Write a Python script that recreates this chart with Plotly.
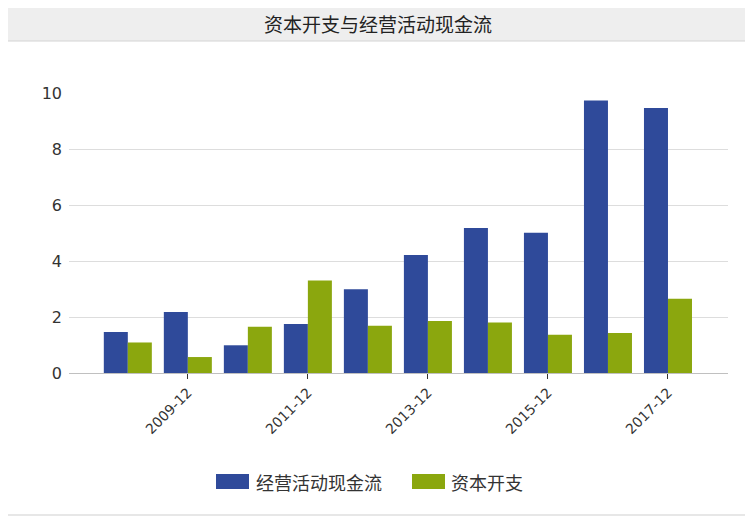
import plotly.graph_objects as go

# datos
periodos = ['2008-12', '2009-12', '2010-12', '2011-12', '2012-12',
            '2013-12', '2014-12', '2015-12', '2016-12', '2017-12']
flujo_operativo = [1.46, 2.18, 0.99, 1.75, 2.99, 4.21, 5.18, 5.01, 9.73, 9.46]
capex = [1.09, 0.57, 1.65, 3.30, 1.69, 1.86, 1.80, 1.37, 1.43, 2.65]
ticks_y = [0, 2, 4, 6, 8, 10]

AZUL = '#2f4a9a'
VERDE = '#8ba70e'
FUENTE = 'Verdana, DejaVu Sans, Noto Sans CJK SC'
CJK = 'Noto Sans CJK SC'

# la pagina tiene 8px de margen en el body, se compensa
OFF = 8
W, H = 753 - OFF, 519 - OFF
L, R, T, B = 69 - OFF, 728 - OFF, 93 - OFF, 373 - OFF  # area del grafico


def px(x):
    return (x - OFF - L) / (R - L)


def py(y):
    return (B - (y - OFF)) / (B - T)


fig = go.Figure()
fig.add_trace(go.Bar(x=periodos, y=flujo_operativo, name='经营活动现金流',
                     marker=dict(color=AZUL, line=dict(width=0))))
fig.add_trace(go.Bar(x=periodos, y=capex, name='资本开支',
                     marker=dict(color=VERDE, line=dict(width=0))))

shapes = [
    # barra del titulo
    dict(type='rect', xref='paper', yref='paper', x0=px(OFF), x1=px(750),
         y0=py(OFF), y1=py(41), line=dict(width=0), fillcolor='#eeeeee',
         layer='below'),
    dict(type='line', xref='paper', yref='paper', x0=px(OFF), x1=px(750),
         y0=py(41), y1=py(41), line=dict(color='#d4d4d4', width=1)),
    # marco exterior (derecha y abajo)
    dict(type='line', xref='paper', yref='paper', x0=px(750), x1=px(750),
         y0=py(OFF), y1=py(515), line=dict(color='#cfcfcf', width=1)),
    dict(type='line', xref='paper', yref='paper', x0=px(OFF), x1=px(750),
         y0=py(515), y1=py(515), line=dict(color='#cfcfcf', width=1)),
]

annotations = [
    dict(text='资本开支与经营活动现金流', xref='paper', yref='paper',
         x=px(378), y=py(23), showarrow=False, xanchor='center', yanchor='middle',
         font=dict(family=CJK, size=19, color='#222222')),
]

# leyenda propia (muestras anchas como en el original)
leyenda = [(216, 257, AZUL, '经营活动现金流'), (412, 452, VERDE, '资本开支')]
for x0, xt, color, texto in leyenda:
    shapes.append(dict(type='rect', xref='paper', yref='paper',
                       x0=px(x0), x1=px(x0 + 33), y0=py(474), y1=py(489),
                       line=dict(width=0), fillcolor=color))
    annotations.append(dict(text=texto, xref='paper', yref='paper',
                            x=px(xt - 3), y=py(482), showarrow=False,
                            xanchor='left', yanchor='middle',
                            font=dict(family=CJK, size=18, color='#333333')))

fig.update_layout(
    width=W, height=H,
    margin=dict(l=L, r=W - R, t=T, b=H - B),
    paper_bgcolor='white', plot_bgcolor='white',
    barmode='group', bargap=0.2, bargroupgap=0,
    showlegend=False,
    font=dict(family=FUENTE, color='#333333'),
    shapes=shapes, annotations=annotations,
)
fig.update_xaxes(
    type='category', range=[-0.98, 10.0],
    tickvals=periodos[1::2], ticktext=periodos[1::2],
    tickangle=-45, tickfont=dict(size=14, color='#333333'),
    ticks='outside', ticklen=5, tickcolor='#333333',
    showline=True, linecolor='#c0c0c0', linewidth=1,
    showgrid=False, zeroline=False,
)
fig.update_yaxes(
    range=[0, 10], tickvals=ticks_y,
    tickfont=dict(size=16, color='#333333'),
    showgrid=True, gridcolor='#dddddd', gridwidth=1,
    zeroline=False, showline=False, ticks='', ticklabelstandoff=6,
)

fig.write_html('out.html')
